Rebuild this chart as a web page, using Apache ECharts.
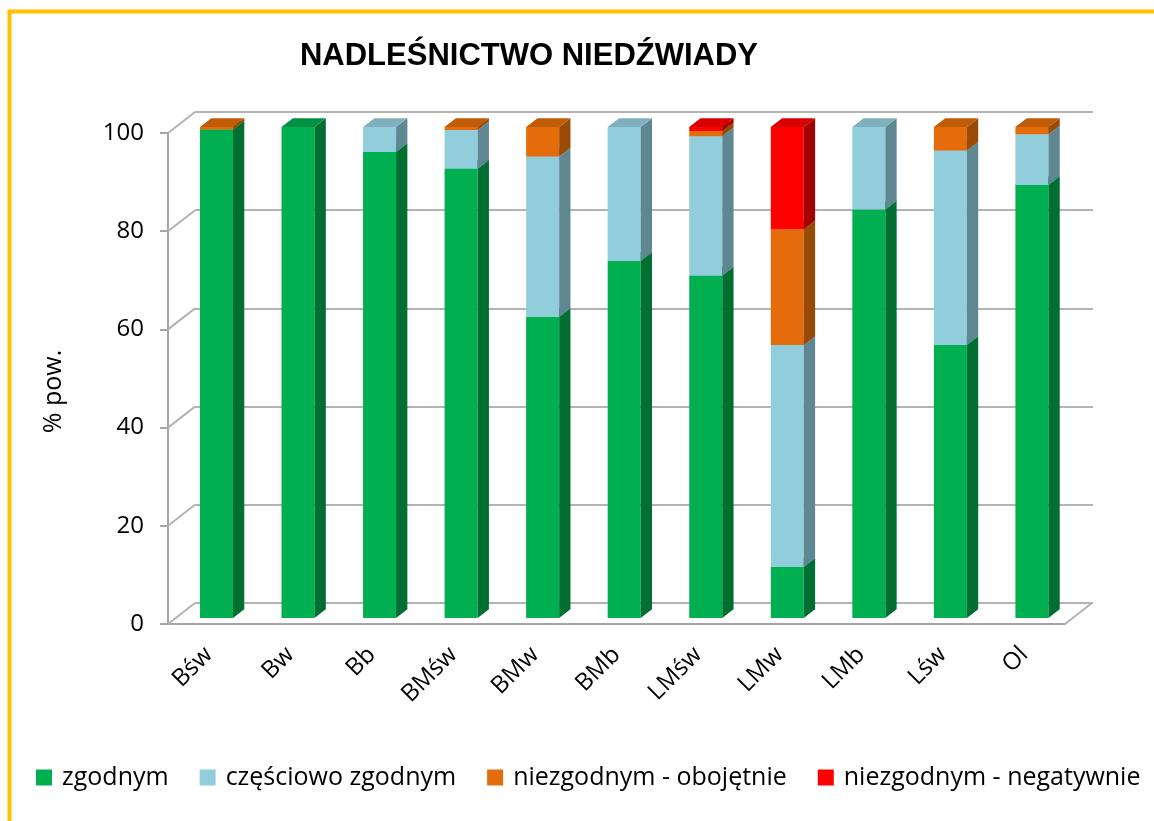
<!DOCTYPE html>
<html>
<head>
<meta charset="utf-8">
<script src="https://cdn.jsdelivr.net/npm/echarts@6/dist/echarts.min.js"></script>
<style>
  html, body { margin: 0; padding: 0; background: #fff; }
  #chart { width: 1154px; height: 821px; }
</style>
</head>
<body>
<div id="chart"></div>
<script>
// kategorie siedlisk
var categories = ['Bśw', 'Bw', 'Bb', 'BMśw', 'BMw', 'BMb', 'LMśw', 'LMw', 'LMb', 'Lśw', 'Ol'];
// % pow.
var zgodnym = [99.5, 100, 94.9, 91.5, 61.3, 72.7, 69.7, 10.4, 83.2, 55.6, 88.2];
var czesciowo = [0, 0, 5.1, 7.9, 32.7, 27.3, 28.4, 45.2, 16.8, 39.6, 10.3];
var obojetnie = [0.5, 0, 0, 0.6, 6.0, 0, 1.1, 23.6, 0, 4.8, 1.5];
var negatywnie = [0, 0, 0, 0, 0, 0, 0.8, 20.8, 0, 0, 0];
var yTicks = [0, 20, 40, 60, 80, 100];

var seriesNames = ['zgodnym', 'częściowo zgodnym', 'niezgodnym - obojętnie', 'niezgodnym - negatywnie'];
// front, side, top
var palette = [
  ['#00B050', '#006F31', '#009044'],
  ['#92CDDC', '#5F8792', '#80B0BD'],
  ['#E46C0A', '#9A4A07', '#C05B08'],
  ['#FF0000', '#A50000', '#D80000']
];

// glebokosc "3D"
var DEPTH_X = 27, DEPTH_Y = -21;
var FRONT_X = 7.7, FRONT_Y = -6;
var SIDE_X = 11.3, SIDE_Y = -8.8;

var chart = echarts.init(document.getElementById('chart'));

function makeBar(k, values, bases) {
  var cols = palette[k];
  var data = values.map(function (v, i) {
    return [i, bases[i], v];
  });
  return {
    name: seriesNames[k],
    type: 'custom',
    xAxisIndex: 0,
    yAxisIndex: 0,
    itemStyle: { color: cols[0] },
    encode: { x: 0, y: 2 },
    data: data,
    z: 5,
    renderItem: function (params, api) {
      var idx = api.value(0), base = api.value(1), val = api.value(2);
      if (!val) return;
      var p0 = api.coord([idx, base]);
      var p1 = api.coord([idx, base + val]);
      var bw = api.size([1, 0])[0] * 0.405;
      var xl = p0[0] - bw / 2 + FRONT_X;
      var xr = xl + bw;
      var yb = p0[1] + FRONT_Y;
      var yt = p1[1] + FRONT_Y;
      return {
        type: 'group',
        children: [
          { type: 'rect', shape: { x: xl, y: yt, width: bw, height: yb - yt }, style: { fill: cols[0] } },
          { type: 'polygon', shape: { points: [[xr, yb], [xr + SIDE_X, yb + SIDE_Y], [xr + SIDE_X, yt + SIDE_Y], [xr, yt]] }, style: { fill: cols[1] } },
          { type: 'polygon', shape: { points: [[xl, yt], [xr, yt], [xr + SIDE_X, yt + SIDE_Y], [xl + SIDE_X, yt + SIDE_Y]] }, style: { fill: cols[2] } }
        ]
      };
    }
  };
}

var stacks = [zgodnym, czesciowo, obojetnie, negatywnie];
var bases = categories.map(function () { return 0; });
var barSeries = [];
stacks.forEach(function (vals, k) {
  barSeries.push(makeBar(k, vals, bases.slice()));
  bases = bases.map(function (b, i) { return b + vals[i]; });
});

// sciana lewa i podloga (linie ukosne)
var frameSeries = {
  type: 'custom',
  xAxisIndex: 0,
  yAxisIndex: 0,
  silent: true,
  z: 1,
  data: yTicks.map(function (t) { return [0, t]; }),
  renderItem: function (params, api) {
    var cs = params.coordSys;
    var p = api.coord([0, api.value(1)]);
    var kids = [{
      type: 'line',
      shape: { x1: cs.x, y1: p[1], x2: cs.x + DEPTH_X, y2: p[1] + DEPTH_Y },
      style: { stroke: '#b3b3b3', lineWidth: 2 }
    }];
    if (api.value(1) === 0) {
      kids.push({
        type: 'line',
        shape: { x1: cs.x + cs.width, y1: p[1], x2: cs.x + cs.width + DEPTH_X, y2: p[1] + DEPTH_Y },
        style: { stroke: '#b3b3b3', lineWidth: 2 }
      });
    }
    return { type: 'group', children: kids };
  }
};

var option = {
  backgroundColor: '#fff',
  textStyle: { fontFamily: 'Open Sans' },
  title: {
    text: 'NADLEŚNICTWO NIEDŹWIADY',
    left: 524,
    top: 36,
    textAlign: 'center',
    textStyle: { fontFamily: 'Liberation Sans', fontWeight: 'bold', fontSize: 31, color: '#000' }
  },
  legend: {
    data: seriesNames,
    left: 31,
    top: 760,
    icon: 'rect',
    itemWidth: 16,
    itemHeight: 16,
    itemGap: 31,
    textStyle: { fontSize: 25, color: '#000', fontFamily: 'Open Sans', padding: [0, 0, 0, 5] }
  },
  grid: [
    { left: 168, right: 89, top: 133, bottom: 197 },
    { left: 195, right: 61, top: 112, bottom: 218 }
  ],
  xAxis: [
    {
      type: 'category',
      gridIndex: 0,
      data: categories,
      axisLine: { lineStyle: { color: '#a6a6a6', width: 2 } },
      axisTick: { length: 8, lineStyle: { color: '#a6a6a6', width: 2 } },
      axisLabel: { rotate: 45, fontSize: 24, color: '#000', margin: 27 },
      splitLine: { show: false }
    },
    { type: 'category', gridIndex: 1, data: categories, show: false }
  ],
  yAxis: [
    {
      type: 'value',
      gridIndex: 0,
      min: 0,
      max: 100,
      interval: 20,
      name: '% pow.',
      nameLocation: 'middle',
      nameGap: 102,
      nameTextStyle: { fontSize: 25, color: '#000', padding: [0, 26, 0, 0] },
      axisLine: { show: true, lineStyle: { color: '#a6a6a6', width: 2 } },
      axisTick: { show: true, length: 8, lineStyle: { color: '#a6a6a6', width: 2 } },
      axisLabel: { fontSize: 24, color: '#000', margin: 24 },
      splitLine: { show: false }
    },
    {
      type: 'value',
      gridIndex: 1,
      min: 0,
      max: 100,
      interval: 20,
      axisLine: { show: false },
      axisTick: { show: false },
      axisLabel: { show: false },
      splitLine: { show: true, lineStyle: { color: '#b3b3b3', width: 2 } }
    }
  ],
  graphic: [{
    type: 'rect',
    shape: { x: 9.5, y: 11.5, width: 1300, height: 1000 },
    style: { fill: 'none', stroke: '#FFC000', lineWidth: 4 },
    silent: true
  }],
  series: [frameSeries].concat(barSeries)
};

chart.setOption(option);
</script>
</body>
</html>
